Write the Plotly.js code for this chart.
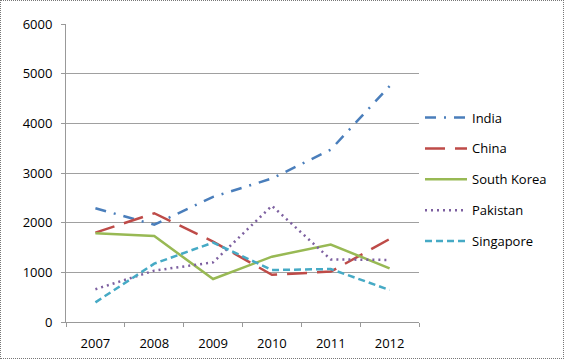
<!DOCTYPE html>
<html><head><meta charset="utf-8">
<script src="https://cdn.plot.ly/plotly-3.0.1.min.js"></script>
<style>
html,body{margin:0;padding:0;background:#fff;}
#wrap{width:564px;height:359px;box-sizing:border-box;border:1px dotted #777;}
#chart{width:562px;height:357px;}
</style></head>
<body><div id="wrap"><div id="chart"></div></div>
<script>
const years = ['2007','2008','2009','2010','2011','2012'];
const india = [2290, 1960, 2520, 2890, 3470, 4750];
const china = [1800, 2190, 1620, 950, 1015, 1670];
const southKorea = [1785, 1730, 865, 1315, 1560, 1080];
const pakistan = [660, 1035, 1200, 2340, 1260, 1250];
const singapore = [395, 1175, 1600, 1047, 1067, 645];
const yTicks = [0, 1000, 2000, 3000, 4000, 5000, 6000];

function tr(name, y, color, dash){
  return {x: years, y: y, name: name, type: 'scatter', mode: 'lines', legendgroup: name,
    line: {color: color, width: 2.5, dash: dash}};
}
const data = [
  tr('India', india, '#4A7EBB', '11px,8px,2px,8px'),
  tr('China', china, '#BE4B48', '20px,10px'),
  tr('South Korea', southKorea, '#98B954', 'solid'),
  tr('Pakistan', pakistan, '#7D60A0', '2px,4px'),
  tr('Singapore', singapore, '#46AAC5', '7px,4px')
];
const layout = {
  width: 562, height: 357,
  margin: {l: 65, r: 143, t: 23, b: 36},
  paper_bgcolor: '#fff', plot_bgcolor: '#fff',
  font: {family: 'Open Sans, sans-serif', size: 13, color: '#000'},
  showlegend: true,
  legend: {x: 1.0, xanchor: 'left', y: 0.478, yanchor: 'middle',
    font: {size: 13, color: '#000'}, tracegroupgap: 11, itemwidth: 42},
  xaxis: {type: 'category', tickson: 'boundaries', ticks: 'outside', ticklen: 4,
    tickcolor: '#999', showline: true, linecolor: '#999', showgrid: false,
    ticklabelstandoff: 9,
    tickfont: {size: 13, color: '#000'}, range: [-0.5, 5.5], fixedrange: true},
  yaxis: {range: [0, 6000], tickvals: yTicks, ticktext: yTicks.map(String),
    ticks: 'outside', ticklen: 4, tickcolor: '#999', showline: true, linecolor: '#999',
    ticklabelstandoff: 6,
    showgrid: true, gridcolor: '#a0a0a0', zeroline: false,
    tickfont: {size: 13, color: '#000'}, fixedrange: true}
};
Plotly.newPlot('chart', data, layout, {displayModeBar: false, staticPlot: true});
</script></body></html>
